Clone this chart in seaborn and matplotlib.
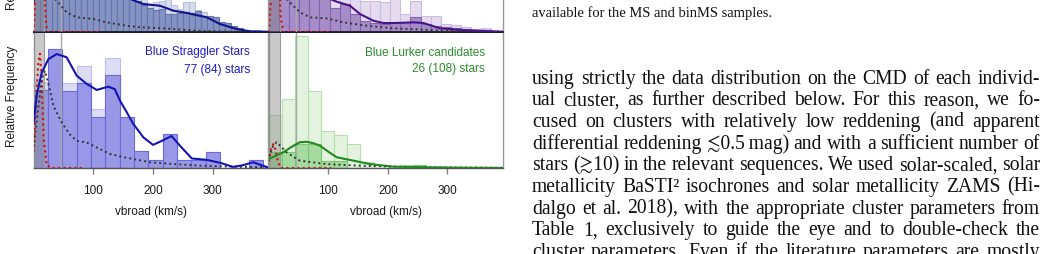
import numpy as np
import pandas as pd
import matplotlib
matplotlib.use("Agg")
import matplotlib.pyplot as plt
import seaborn as sns

sns.set_theme(style="white")
plt.rcParams['font.family'] = ['Liberation Sans', 'DejaVu Sans']

# ---------------- data ----------------
# bottom-left: Blue Straggler Stars, bins of 24 km/s
bss_bin = 24
bss_all = [0.63, 0.875, 0.623, 0.748, 0.434, 0.809, 0.373, 0.123, 0.0625, 0.25,
           0.059, 0.059, 0.121, 0.0, 0.0, 0.059]
bss_sel = [0.57, 0.875, 0.564, 0.623, 0.375, 0.682, 0.373, 0.123, 0.0625, 0.25,
           0.059, 0.059, 0.121, 0.0, 0.0, 0.059]
bss_kde_x = [0, 5, 13.5, 24.7, 38.7, 55.4, 72.2, 89, 105.7, 125, 136, 144.7, 156, 167,
             183.7, 200, 215, 231, 248, 265, 290, 315, 334, 350, 368, 382, 392]
bss_kde_y = [0.324, 0.53, 0.70, 0.80, 0.838, 0.814, 0.679, 0.618, 0.574, 0.598, 0.58,
             0.495, 0.41, 0.324, 0.226, 0.17, 0.2, 0.235, 0.15, 0.07, 0.06, 0.035,
             0.008, 0.02, 0.042, 0.02, 0.005]
bss_ms_x = [0, 8, 14, 19, 26, 33, 47, 60, 72, 89, 105.7, 128, 150, 167, 195, 234, 279, 334, 392]
bss_ms_y = [0.15, 0.45, 0.66, 0.715, 0.6, 0.458, 0.336, 0.25, 0.2, 0.188, 0.151, 0.103,
            0.08, 0.066, 0.042, 0.029, 0.017, 0.01, 0.005]
bss_bin_x = [0, 4, 8, 10.7, 13, 17, 22, 30, 60, 85]
bss_bin_y = [0.12, 0.5, 0.78, 0.84, 0.7, 0.2, 0.02, 0.0, 0.0, 0.0]

# bottom-right: Blue Lurker candidates, bins of 22 km/s
bl_bin = 22
bl_all = [0.39, 0.51, 0.968, 0.568, 0.269, 0.24, 0.176, 0.046, 0.0, 0.0, 0.022, 0.022]
bl_sel = [0.118, 0.118, 0.176, 0.176, 0.05, 0.05, 0.0, 0.0, 0.0, 0.0, 0.0, 0.022]
bl_kde_x = [0, 24, 40, 52, 63.3, 75, 86, 100, 114, 142, 170, 209, 265, 321, 394]
bl_kde_y = [0.066, 0.115, 0.16, 0.189, 0.193, 0.182, 0.164, 0.12, 0.079, 0.054, 0.029,
            0.01, 0.005, 0.002, 0.0]
bl_ms_x = [0, 7, 13, 20, 30, 52, 97, 153, 209, 265, 394]
bl_ms_y = [0.08, 0.16, 0.19, 0.16, 0.115, 0.054, 0.029, 0.017, 0.01, 0.005, 0.002]
bl_bin_x = [0, 4, 7.5, 11, 15, 20, 30, 60, 105]
bl_bin_y = [0.05, 0.14, 0.176, 0.14, 0.05, 0.0, 0.0, 0.0, 0.0]

# top-left (cropped panel), bins of 10 km/s
tl_bin = 10
tl_all = [0.9, 0.95, 0.9, 0.85, 0.8, 0.75, 0.7, 0.65, 0.6, 0.55, 0.5, 0.45, 0.42, 0.4,
          0.37, 0.33, 0.27, 0.25, 0.24, 0.2, 0.22, 0.23, 0.24, 0.2, 0.17, 0.22, 0.22,
          0.16, 0.15, 0.12, 0.108, 0.07, 0.066, 0.046, 0.027, 0.017, 0.01, 0.017, 0.0, 0.0]
tl_sel = [0.85, 0.9, 0.85, 0.8, 0.75, 0.7, 0.65, 0.6, 0.55, 0.5, 0.45, 0.4, 0.37, 0.35,
          0.32, 0.3, 0.26, 0.23, 0.2, 0.18, 0.16, 0.17, 0.13, 0.13, 0.14, 0.15, 0.14,
          0.155, 0.12, 0.12, 0.108, 0.07, 0.066, 0.046, 0.027, 0.017, 0.01, 0.005, 0.0, 0.0]
tl_kde_x = [0, 10, 30, 60, 100, 140, 161.6, 183.7, 211.7, 234, 256.5, 290, 312, 340, 362.5, 392]
tl_kde_y = [0.22, 0.6, 0.9, 0.8, 0.6, 0.4, 0.243, 0.206, 0.193, 0.157, 0.14, 0.108, 0.059,
            0.022, 0.005, 0.002]
tl_ms_x = [0, 8, 16, 25, 35.8, 55.4, 72.2, 100, 122.4, 156, 178, 216.7, 273, 329, 392]
tl_ms_y = [0.3, 1.0, 1.2, 0.6, 0.243, 0.145, 0.108, 0.096, 0.071, 0.046, 0.035, 0.027,
           0.01, 0.002, 0.0]
tl_bin_x = [0, 2, 5, 10, 16, 21, 24, 110]
tl_bin_y = [0.0, 0.15, 0.8, 1.5, 0.5, 0.05, 0.0, 0.0]

# top-right (cropped panel), bins of 17 km/s
tr_bin = 17
tr_all = [0.9, 0.95, 0.8, 0.7, 0.6, 0.5, 0.4, 0.35, 0.3, 0.23, 0.225, 0.22, 0.3, 0.132,
          0.225, 0.12, 0.115, 0.059, 0.054, 0.037, 0.022, 0.027, 0.0]
tr_sel = [0.8, 0.85, 0.7, 0.6, 0.5, 0.4, 0.18, 0.206, 0.132, 0.083, 0.066, 0.059, 0.066,
          0.076, 0.108, 0.059, 0.047, 0.034, 0.027, 0.022, 0.01, 0.015, 0.0]
tr_kde_x = [0, 20, 50, 80, 102.9, 114, 136.5, 153.3, 175.6, 192.4, 209, 226, 243, 259.7,
            287.7, 315.8, 349.4, 394]
tr_kde_y = [0.3, 0.7, 0.9, 0.6, 0.243, 0.223, 0.193, 0.132, 0.083, 0.066, 0.066, 0.068,
            0.071, 0.066, 0.027, 0.017, 0.01, 0.002]
tr_ms_x = [0, 8, 15, 22, 30, 41.2, 52.4, 69.2, 97.3, 125.2, 164.5, 209, 259.7, 315.8, 394]
tr_ms_y = [0.3, 1.0, 1.3, 0.8, 0.243, 0.193, 0.145, 0.108, 0.1, 0.071, 0.046, 0.027,
           0.017, 0.005, 0.002]
tr_bin_x = [0, 3, 6, 10, 15, 20, 25, 105]
tr_bin_y = [0.0, 0.2, 0.9, 1.6, 0.8, 0.1, 0.0, 0.0]

xticks = [100, 200, 300]
xlabel = "vbroad (km/s)"
ylabel = "Relative Frequency"
bss_title = ["Blue Straggler Stars", "77 (84) stars"]
bl_title = ["Blue Lurker candidates", "26 (108) stars"]

caption_tail = "available for the MS and binMS samples."
body_lines = [
    "using strictly the data distribution on the CMD of each individ-",
    "ual cluster, as further described below. For this reason, we fo-",
    "cused on clusters with relatively low reddening (and apparent",
    "differential reddening \u22720.5\u2009mag) and with a sufficient number of",
    "stars (\u227310) in the relevant sequences. We used solar-scaled, solar",
    "metallicity BaSTI\u00b2 isochrones and solar metallicity ZAMS (Hi-",
    "dalgo et al. 2018), with the appropriate cluster parameters from",
    "Table 1, exclusively to guide the eye and to double-check the",
    "cluster parameters. Even if the literature parameters are mostly",
]

# ---------------- layout ----------------
W, H = 1051, 255
fig = plt.figure(figsize=(W / 100, H / 100), dpi=100)


def rect(x0, x1, ytop, ybot):
    return [x0 / W, 1 - ybot / H, (x1 - x0) / W, (ybot - ytop) / H]


ax_bl = fig.add_axes(rect(33.6, 268.0, 33, 169))
ax_br = fig.add_axes(rect(268.8, 503.3, 33, 169))
ax_tl = fig.add_axes(rect(33.6, 268.0, -103, 33))
ax_tr = fig.add_axes(rect(268.8, 503.3, -103, 33))

band_col = "#808080"
dot = (0, (1.0, 1.6))


def panel(ax, width, h_all, h_sel, c_all, e_all, c_sel, e_sel, kx, ky, kcol,
          mx, my, bx, by, xmax):
    n = len(h_all)
    edges = [i * width for i in range(n + 1)]
    centers = [(i + 0.5) * width for i in range(n)]
    sns.histplot(x=centers, weights=h_all, bins=edges, ax=ax, stat="count",
                 color=c_all, alpha=1.0, edgecolor=e_all, linewidth=0.8)
    sns.histplot(x=centers, weights=h_sel, bins=edges, ax=ax, stat="count",
                 color=c_sel, alpha=1.0, edgecolor=e_sel, linewidth=0.8)
    ax.axvspan(0, 18, color=band_col, alpha=0.42, lw=0, zorder=3)
    ax.axvline(18, color="#9a9a9a", lw=0.8, zorder=3)
    ax.axvline(46, color="#a8a8a8", lw=1.0, zorder=3)
    sns.lineplot(x=bx, y=by, ax=ax, color="#d01010", lw=1.5, linestyle=dot,
                 sort=False, zorder=5)
    sns.lineplot(x=mx, y=my, ax=ax, color="#333333", lw=1.4, linestyle=dot,
                 sort=False, zorder=5)
    sns.lineplot(x=kx, y=ky, ax=ax, color=kcol, lw=1.5, sort=False, zorder=6)
    ax.set_xlim(0, xmax)
    ax.set_ylim(0, 1)
    ax.set_yticks([])
    ax.set_xlabel("")
    ax.set_ylabel("")
    for s in ["left", "right"]:
        ax.spines[s].set_color("#9a9a9a")
        ax.spines[s].set_linewidth(1.0)


panel(ax_bl, bss_bin, bss_all, bss_sel, "#dcdcf5", "#bdbdee", "#9898e6", "#6a6ad8",
      bss_kde_x, bss_kde_y, "#1414b4", bss_ms_x, bss_ms_y, bss_bin_x, bss_bin_y, 392.6)
panel(ax_br, bl_bin, bl_all, bl_sel, "#e3f3df", "#b4e0ac", "#a6db9f", "#7cc872",
      bl_kde_x, bl_kde_y, "#1e8a1e", bl_ms_x, bl_ms_y, bl_bin_x, bl_bin_y, 394)
panel(ax_tl, tl_bin, tl_all, tl_sel, "#d6dcec", "#b8c2dc", "#8493c4", "#6676aa",
      tl_kde_x, tl_kde_y, "#12128c", tl_ms_x, tl_ms_y, tl_bin_x, tl_bin_y, 392.6)
panel(ax_tr, tr_bin, tr_all, tr_sel, "#e4dbef", "#cbbde0", "#a68cc9", "#8466b0",
      tr_kde_x, tr_kde_y, "#4a1488", tr_ms_x, tr_ms_y, tr_bin_x, tr_bin_y, 394)

for ax in (ax_bl, ax_br):
    ax.set_xticks(xticks)
    ax.tick_params(axis="x", direction="out", length=4, width=1, color="#808080",
                   labelsize=8.5, labelcolor="#1a1a1a", pad=7.5, bottom=True)
    ax.spines["top"].set_color("#1a1a2a")
    ax.spines["top"].set_linewidth(1.3)
    ax.spines["bottom"].set_color("#555555")
    ax.spines["bottom"].set_linewidth(1.0)
    ax.set_xlabel(xlabel, fontsize=8.5, color="#1a1a1a")
    ax.xaxis.set_label_coords(0.5, -0.316)
    ax.xaxis.label.set_va("center")

for ax in (ax_tl, ax_tr):
    ax.set_xticks([])
    ax.spines["bottom"].set_color("#1a1a2a")
    ax.spines["bottom"].set_linewidth(1.3)

ax_bl.set_ylabel(ylabel, fontsize=8.5, color="#1a1a1a")
ax_bl.yaxis.set_label_coords(-0.092, 0.535)
ax_bl.yaxis.label.set_va("center")
ax_tl.set_ylabel(ylabel, fontsize=8.5, color="#1a1a1a")
ax_tl.yaxis.set_label_coords(-0.092, 0.54)
ax_tl.yaxis.label.set_va("center")

ax_bl.text(0.923, 0.86, bss_title[0], transform=ax_bl.transAxes, ha="right",
           va="center", fontsize=8.5, color="#1c1cc8", zorder=10)
ax_bl.text(0.923, 0.728, bss_title[1], transform=ax_bl.transAxes, ha="right",
           va="center", fontsize=8.5, color="#1c1cc8", zorder=10)
ax_br.text(0.922, 0.855, bl_title[0], transform=ax_br.transAxes, ha="right",
           va="center", fontsize=8.5, color="#2a8c2a", zorder=10)
ax_br.text(0.922, 0.735, bl_title[1], transform=ax_br.transAxes, ha="right",
           va="center", fontsize=8.5, color="#2a8c2a", zorder=10)

# ---------------- text column (justified) ----------------
serif_plain = "Liberation Serif"
serif_mixed = ["Liberation Serif", "STIXGeneral", "DejaVu Serif"]
renderer = fig.canvas.get_renderer()
X0, X1 = 532, 1040


def fam(s):
    return serif_plain if all(ord(c) < 128 for c in s) else serif_mixed


def text_width(s, fs):
    t = fig.text(0, 0, s, fontsize=fs, family=fam(s))
    w = t.get_window_extent(renderer).width
    t.remove()
    return w


# body size: between "first line fills the column" and "widest line fits"
fs_a = 10 * (X1 - X0) / text_width(body_lines[0], 10) * 0.985
fs_b = 10 * (X1 - X0) / max(text_width(l, 10) for l in body_lines)
fs_body = 0.5 * (fs_a + fs_b)
cap_w = text_width(caption_tail, 10)
fs_cap = 10 * 241 / cap_w

body_centers = [79, 100.7, 122.3, 144, 165.7, 187.3, 209, 230.7, 252.3]
xh = 0.23 * fs_body * 100 / 72

fig.text(X0 / W, 1 - (14 + 0.23 * fs_cap * 100 / 72) / H, caption_tail, fontsize=fs_cap,
         family=serif_plain, va="baseline", ha="left", color="#111111")

for line, yc in zip(body_lines, body_centers):
    words = line.split(" ")
    yb = yc + xh
    ts = [fig.text(0, 1 - yb / H, w, fontsize=fs_body, family=fam(w), va="baseline",
                   ha="left", color="#111111") for w in words]
    ws = [t.get_window_extent(renderer).width for t in ts]
    gap = (X1 - X0 - sum(ws)) / (len(words) - 1)
    x = X0
    for t, w in zip(ts, ws):
        t.set_x(x / W)
        x += w + gap

fig.savefig("out.png", dpi=100)
